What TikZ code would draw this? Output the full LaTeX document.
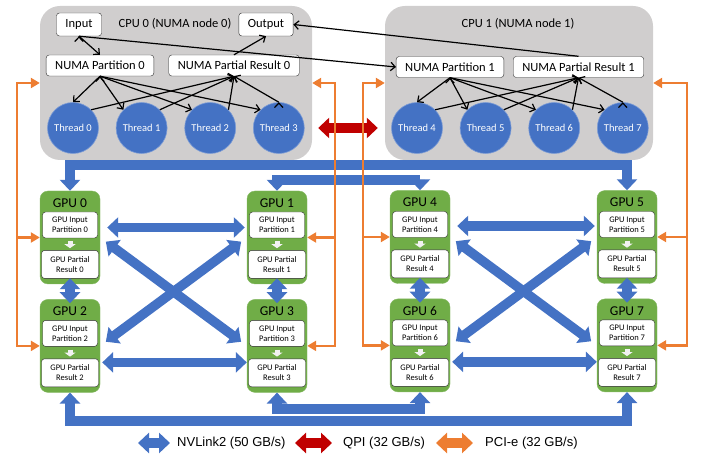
\documentclass[tikz,border=0pt]{standalone}
\usepackage{fontspec}
\setmainfont{Carlito}
\newfontfamily\legendfont{Liberation Sans}
\definecolor{cpugray}{RGB}{208,206,206}
\definecolor{linkblue}{RGB}{68,114,196}
\definecolor{gpugreen}{RGB}{112,173,71}
\definecolor{pcieorange}{RGB}{237,125,49}
\definecolor{qpired}{RGB}{192,0,0}
\usetikzlibrary{arrows.meta,positioning,calc}

\begin{document}
\begin{tikzpicture}[x=1pt, y=-1pt,
      arr/.style={-{Straight Barb[length=4.5pt,width=8.5pt]}, line width=1.2pt},
      cpubox/.style={fill=cpugray, rounded corners=20pt, minimum height=154pt},
      cpulabel/.style={font=\fontsize{12.5}{14}\selectfont},
      txtbox/.style={draw=black!80, fill=white, rounded corners=3pt,
                     font=\fontsize{12.5}{14}\selectfont, inner xsep=9pt, inner ysep=0pt},
      thread/.style={circle, fill=linkblue, draw=linkblue!70!white, line width=0.6pt,
                     minimum size=51pt, inner sep=0pt, text=white,
                     font=\fontsize{10.5}{12}\selectfont},
      gpu/.style={fill=gpugreen, draw=gpugreen!85!white, rounded corners=8pt,
                  minimum width=60pt, minimum height=93pt},
      gpuhead/.style={font=\fontsize{13.5}{15}\selectfont, inner sep=0pt},
      gpuin/.style={draw=black!85, fill=white, rounded corners=3pt, align=center,
                    font=\fontsize{8.5}{10}\selectfont, minimum width=55pt,
                    minimum height=26pt, inner sep=0pt},
      gpures/.style={gpuin, minimum width=57pt, minimum height=28pt},
      down/.style={-{Triangle[width=11pt,length=4pt]}, white!95!black, line width=5pt,
                   shorten <=3pt, shorten >=2pt},
      nvlink/.style={{Triangle[width=20pt,length=11pt]}-{Triangle[width=20pt,length=11pt]},
                     linkblue, line width=9.5pt},
      qpi/.style={nvlink, qpired},
      pcie/.style={-{Triangle[width=10pt,length=9pt]}, pcieorange, line width=2.6pt},
      pcieb/.style={pcie, {Triangle[width=10pt,length=9pt]}-{Triangle[width=10pt,length=9pt]}},
      legtext/.style={anchor=west, inner sep=0pt, font=\legendfont\fontsize{13}{15}\selectfont}
    ]
    \useasboundingbox (0,0) rectangle (704,454);
    % CPU sockets
    \node[cpubox, minimum width=272pt] (cpu0) at (176,83) {};
    \node[cpubox, minimum width=268pt] (cpu1) at (519,83) {};
    \node[cpulabel] (lab0) at (175,24) {CPU 0 (NUMA node 0)};
    \node[cpulabel] (lab1) at (518,24) {CPU 1 (NUMA node 1)};
    \node[txtbox, minimum height=23pt] (in) at (79,24.5) {Input};
    \node[txtbox, minimum height=23pt] (out) at (266,24.5) {Output};
    \node[txtbox, minimum height=21pt] (part0) at (100,65.5) {NUMA Partition 0};
    \node[txtbox, minimum height=21pt] (res0) at (234,65.5) {NUMA Partial Result 0};
    \node[txtbox, minimum height=21pt] (part1) at (450,67) {NUMA Partition 1};
    \node[txtbox, minimum height=21pt] (res1) at (578.5,67) {NUMA Partial Result 1};
    \node[thread] (th0) at (73,128) {Thread 0};
    \node[thread, right=17pt of th0] (th1) {Thread 1};
    \node[thread, right=17pt of th1] (th2) {Thread 2};
    \node[thread, right=17pt of th2] (th3) {Thread 3};
    \node[thread] (th4) at (417,128) {Thread 4};
    \node[thread, right=17pt of th4] (th5) {Thread 5};
    \node[thread, right=17pt of th5] (th6) {Thread 6};
    \node[thread, right=17pt of th6] (th7) {Thread 7};
    \draw[arr] (in.south) edge (part0.north) edge (part1.west);
    \draw[arr] (res0.north) -- (out.south);
    \draw[arr] (res1.north) -- (out.east);
    \draw[arr] (part0.south) edge (th0.north) edge (th1.135) edge (th2.135) edge (th3.135);
    \draw[arr] (th0.45) edge (res0.south) (th1.45) edge (res0.south)
               (th2.45) edge (res0.south) (th3.north) edge (res0.south);
    \draw[arr] (part1.south) edge (th4.north) edge (th5.135) edge (th6.135) edge (th7.135);
    \draw[arr] (th4.45) edge (res1.south) (th5.45) edge (res1.south)
               (th6.45) edge (res1.south) (th7.north) edge (res1.south);
    % GPUs
    \node[gpu] (g0) at (70,237.5) {};
    \node[gpuhead, below=7.5pt of g0.north] (h0) {GPU 0};
    \node[gpuin, below=21pt of g0.north] (gi0) {GPU Input\\Partition 0};
    \node[gpures, below=12pt of gi0] (gr0) {GPU Partial\\Result 0};
    \node[gpu] (g1) at (277,237.5) {};
    \node[gpuhead, below=7.5pt of g1.north] (h1) {GPU 1};
    \node[gpuin, below=21pt of g1.north] (gi1) {GPU Input\\Partition 1};
    \node[gpures, below=12pt of gi1] (gr1) {GPU Partial\\Result 1};
    \node[gpu, below=15pt of g0] (g2) {};
    \node[gpuhead, below=7.5pt of g2.north] (h2) {GPU 2};
    \node[gpuin, below=21pt of g2.north] (gi2) {GPU Input\\Partition 2};
    \node[gpures, below=12pt of gi2] (gr2) {GPU Partial\\Result 2};
    \node[gpu, below=15pt of g1] (g3) {};
    \node[gpuhead, below=7.5pt of g3.north] (h3) {GPU 3};
    \node[gpuin, below=21pt of g3.north] (gi3) {GPU Input\\Partition 3};
    \node[gpures, below=12pt of gi3] (gr3) {GPU Partial\\Result 3};
    \node[gpu] (g4) at (420,237) {};
    \node[gpuhead, below=7.5pt of g4.north] (h4) {GPU 4};
    \node[gpuin, below=21pt of g4.north] (gi4) {GPU Input\\Partition 4};
    \node[gpures, below=12pt of gi4] (gr4) {GPU Partial\\Result 4};
    \node[gpu] (g5) at (627,237) {};
    \node[gpuhead, below=7.5pt of g5.north] (h5) {GPU 5};
    \node[gpuin, below=21pt of g5.north] (gi5) {GPU Input\\Partition 5};
    \node[gpures, below=12pt of gi5] (gr5) {GPU Partial\\Result 5};
    \node[gpu, below=15pt of g4] (g6) {};
    \node[gpuhead, below=7.5pt of g6.north] (h6) {GPU 6};
    \node[gpuin, below=21pt of g6.north] (gi6) {GPU Input\\Partition 6};
    \node[gpures, below=12pt of gi6] (gr6) {GPU Partial\\Result 6};
    \node[gpu, below=15pt of g5] (g7) {};
    \node[gpuhead, below=7.5pt of g7.north] (h7) {GPU 7};
    \node[gpuin, below=21pt of g7.north] (gi7) {GPU Input\\Partition 7};
    \node[gpures, below=12pt of gi7] (gr7) {GPU Partial\\Result 7};
    \draw[down] (gi0) -- (gr0);
    \draw[down] (gi1) -- (gr1);
    \draw[down] (gi2) -- (gr2);
    \draw[down] (gi3) -- (gr3);
    \draw[down] (gi4) -- (gr4);
    \draw[down] (gi5) -- (gr5);
    \draw[down] (gi6) -- (gr6);
    \draw[down] (gi7) -- (gr7);
    % NVLink2
    \coordinate (bus1) at (0,165);
    \coordinate (bus2) at (0,180);
    \coordinate (bus3) at (0,409);
    \coordinate (bus4) at (0,421);
    \draw[nvlink] (g0.north) -- (g0.north |- bus1) -- (g5.north |- bus1) -- (g5.north);
    \draw[nvlink] (g1.north) -- (g1.north |- bus2) -- (g4.north |- bus2) -- (g4.north);
    \draw[nvlink] (g3.south) -- (g3.south |- bus3) -- (g6.south |- bus3) -- (g6.south);
    \draw[nvlink] (g2.south) -- (g2.south |- bus4) -- (g7.south |- bus4) -- (g7.south);
    \draw[nvlink, shorten <=-6pt, shorten >=-4pt] (g0.south) -- (g2.north);
    \draw[nvlink, shorten <=-6pt, shorten >=-4pt] (g1.south) -- (g3.north);
    \draw[nvlink, shorten <=-6pt, shorten >=-4pt] (g4.south) -- (g6.north);
    \draw[nvlink, shorten <=-6pt, shorten >=-4pt] (g5.south) -- (g7.north);
    \draw[nvlink, shorten <=7pt, shorten >=2pt] ([yshift=10pt]g0.east) -- ([yshift=10pt]g1.west);
    \draw[nvlink, shorten <=7pt, shorten >=2pt] ([yshift=11pt]g4.east) -- ([yshift=11pt]g5.west);
    \draw[nvlink, shorten <=2pt] ([yshift=-16.5pt]g2.east) -- ([yshift=-16.5pt]g3.west);
    \draw[nvlink, shorten <=2pt] ([yshift=-16.5pt]g6.east) -- ([yshift=-16.5pt]g7.west);
    \draw[nvlink, shorten <=7pt, shorten >=7pt] (g0.east) -- (g3.west);
    \draw[nvlink, shorten <=7pt, shorten >=7pt] (g1.west) -- (g2.east);
    \draw[nvlink, shorten <=7pt, shorten >=7pt] (g4.east) -- (g7.west);
    \draw[nvlink, shorten <=7pt, shorten >=7pt] (g5.west) -- (g6.east);
    % QPI
    \draw[qpi, shorten <=6pt, shorten >=7pt] (cpu0.east |- th3) -- (cpu1.west |- th4);
    % PCI-e
    \coordinate (pl) at (17,0);
    \coordinate (pm) at (335,0);
    \coordinate (pn) at (363,0);
    \coordinate (pr) at (687,0);
    \draw[pcieb] (cpu0.west) -- (pl |- cpu0.west) -- (pl |- g2.west) -- (g2.west);
    \draw[pcie] (pl |- g0.west) -- (g0.west);
    \draw[pcieb] (cpu0.east) -- (pm |- cpu0.east) -- (pm |- g3.east) -- (g3.east);
    \draw[pcie] (pm |- g1.east) -- (g1.east);
    \draw[pcieb] (cpu1.west) -- (pn |- cpu1.west) -- (pn |- g6.west) -- (g6.west);
    \draw[pcie] (pn |- g4.west) -- (g4.west);
    \draw[pcieb] (cpu1.east) -- (pr |- cpu1.east) -- (pr |- g7.east) -- (g7.east);
    \draw[pcie] (pr |- g5.east) -- (g5.east);
    % legend
    \node[legtext] (lnv) at (177,443) {NVLink2 (50 GB/s)};
    \node[legtext] (lqpi) at (343,443) {QPI (32 GB/s)};
    \node[legtext] (lpci) at (485,443) {PCI-e (32 GB/s)};
    \draw[nvlink] ([xshift=-39pt]lnv.west) -- ([xshift=-7pt]lnv.west);
    \draw[qpi] ([xshift=-48pt]lqpi.west) -- ([xshift=-11pt]lqpi.west);
    \draw[nvlink, pcieorange] ([xshift=-49pt]lpci.west) -- ([xshift=-12pt]lpci.west);
  \end{tikzpicture}
\end{document}
